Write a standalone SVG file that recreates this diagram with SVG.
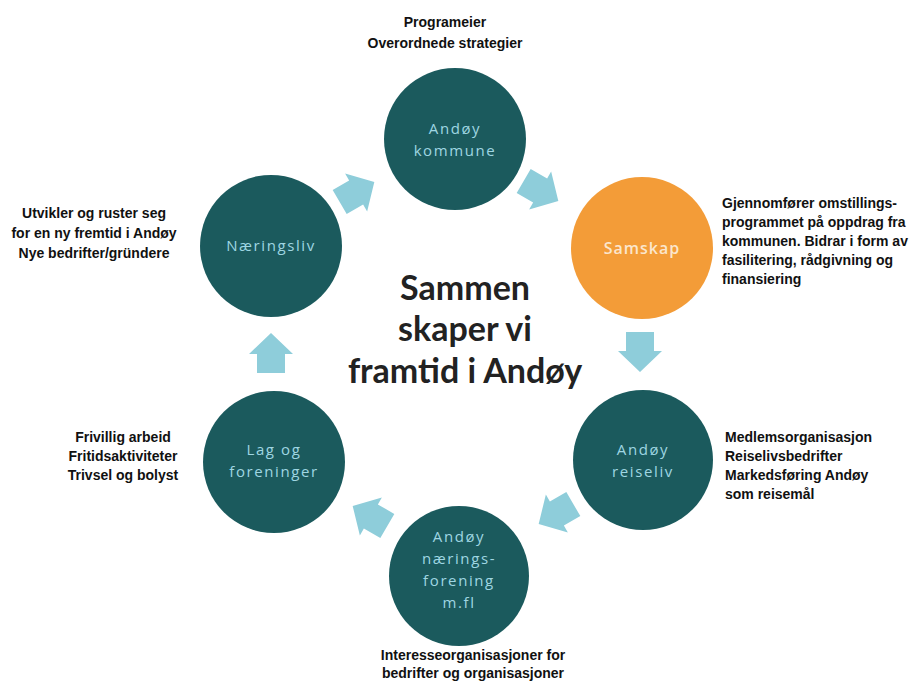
<svg xmlns="http://www.w3.org/2000/svg" width="915" height="681" viewBox="0 0 915 681">
<style>
.node{fill:#1b5a5d}
.orange{fill:#f39c38}
.lbl{font-family:"Open Sans","Liberation Sans",sans-serif;font-size:15px;letter-spacing:1.6px;fill:#9fd6e2;text-anchor:middle}
.lbl2{font-family:"Open Sans","Liberation Sans",sans-serif;font-size:16px;letter-spacing:1px;fill:#fbe6cc;text-anchor:middle;font-weight:600}
.note{font-family:"Liberation Sans",Arial,sans-serif;font-size:14px;font-weight:bold;fill:#111}
.mid{text-anchor:middle}
.title{font-family:"Lato","Open Sans",sans-serif;font-size:34px;font-weight:bold;fill:#222;text-anchor:middle}
.arr{fill:#8ecdda}
</style>
<defs>
<polygon id="ar" points="-14,-20 14,-20 14,-1 22,-1 0,20 -22,-1 -14,-1"/>
</defs>
<rect width="915" height="681" fill="#ffffff"/>
<g id="connectors">
<use href="#ar" class="arr" transform="translate(541,191) rotate(-60)"/>
<use href="#ar" class="arr" transform="translate(640,352)"/>
<use href="#ar" class="arr" transform="translate(556,514) rotate(60)"/>
<use href="#ar" class="arr" transform="translate(370,516) rotate(120)"/>
<use href="#ar" class="arr" transform="translate(271,353) rotate(180)"/>
<use href="#ar" class="arr" transform="translate(357,192) rotate(-120)"/>
</g>
<g id="kommune">
<circle class="node" cx="455" cy="139" r="71"/>
<text class="lbl" x="455" y="134">Andøy</text>
<text class="lbl" x="455" y="156">kommune</text>
</g>
<g id="samskap">
<circle class="orange" cx="642" cy="248" r="71"/>
<text class="lbl2" x="642" y="254">Samskap</text>
</g>
<g id="reiseliv">
<circle class="node" cx="643" cy="460" r="70"/>
<text class="lbl" x="643" y="455">Andøy</text>
<text class="lbl" x="643" y="477">reiseliv</text>
</g>
<g id="naeringsforening">
<circle class="node" cx="459" cy="576" r="70"/>
<text class="lbl" x="459" y="542">Andøy</text>
<text class="lbl" x="459" y="564">nærings-</text>
<text class="lbl" x="459" y="586">forening</text>
<text class="lbl" x="459" y="608">m.fl</text>
</g>
<g id="lag">
<circle class="node" cx="274" cy="462" r="71"/>
<text class="lbl" x="274" y="455">Lag og</text>
<text class="lbl" x="274" y="477">foreninger</text>
</g>
<g id="naeringsliv">
<circle class="node" cx="271" cy="246" r="71"/>
<text class="lbl" x="271" y="251">Næringsliv</text>
</g>
<g id="title">
<text class="title" x="465" y="300">Sammen</text>
<text class="title" x="465" y="341">skaper vi</text>
<text class="title" x="465" y="383">framtid i Andøy</text>
</g>
<g id="notes">
<text class="note mid" x="445" y="27">Programeier</text>
<text class="note mid" x="445" y="48">Overordnede strategier</text>
<text class="note mid" x="94" y="218">Utvikler og ruster seg</text>
<text class="note mid" x="94" y="238">for en ny fremtid i Andøy</text>
<text class="note mid" x="94" y="258">Nye bedrifter/gründere</text>
<text class="note" x="722" y="208">Gjennomfører omstillings-</text>
<text class="note" x="722" y="227">programmet på oppdrag fra</text>
<text class="note" x="722" y="246">kommunen.  Bidrar i form av</text>
<text class="note" x="722" y="265">fasilitering, rådgivning og</text>
<text class="note" x="722" y="284">finansiering</text>
<text class="note" x="725" y="442">Medlemsorganisasjon</text>
<text class="note" x="725" y="461">Reiselivsbedrifter</text>
<text class="note" x="725" y="480">Markedsføring Andøy</text>
<text class="note" x="725" y="499">som reisemål</text>
<text class="note mid" x="123" y="442">Frivillig arbeid</text>
<text class="note mid" x="123" y="461">Fritidsaktiviteter</text>
<text class="note mid" x="123" y="480">Trivsel og bolyst</text>
<text class="note mid" x="473" y="660">Interesseorganisasjoner for</text>
<text class="note mid" x="473" y="678">bedrifter og organisasjoner</text>
</g>
</svg>
